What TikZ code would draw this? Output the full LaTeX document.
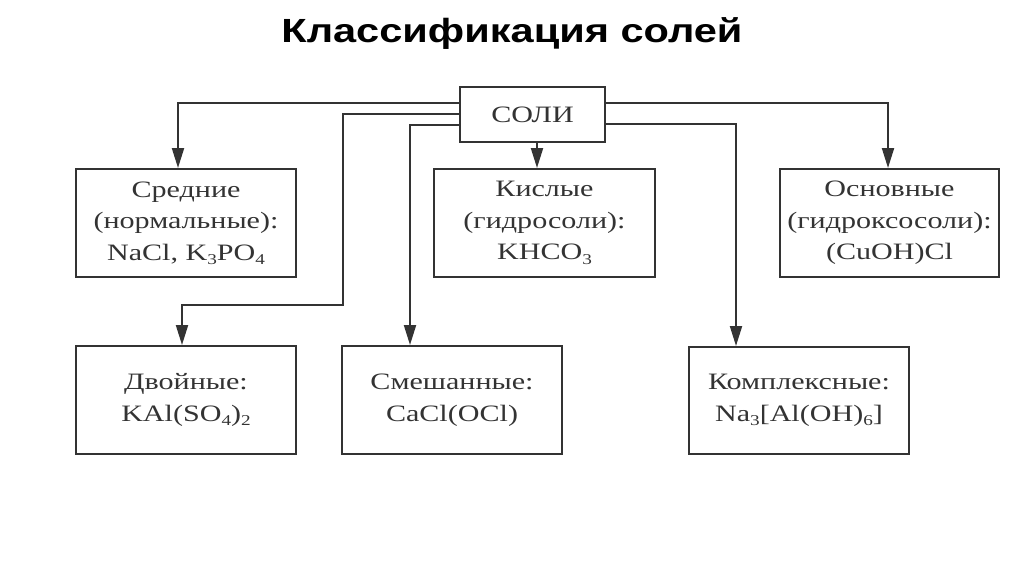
\documentclass[tikz,border=0pt]{standalone}
\usepackage{fontspec}
\setmainfont{Liberation Serif}[FakeStretch=1.28]
\newfontfamily\titlefont{Liberation Sans}[FakeStretch=1.24]
\usetikzlibrary{arrows.meta}
\newcommand\sbs[1]{\raisebox{-0.4ex}{\fontsize{15}{15}\selectfont #1}}
\begin{document}
\begin{tikzpicture}[x=1pt,y=-1pt,
  box/.style={draw=black!80, line width=2pt, rectangle, inner sep=0pt,
    minimum width=220pt, minimum height=108pt, align=center,
    text=black!80, font=\fontsize{23.5}{31.5}\selectfont},
  arr/.style={draw=black!80, line width=2pt, -{Triangle[length=20pt,width=12pt]}}]
\useasboundingbox (0,0) rectangle (1024,574);
\node[font=\titlefont\bfseries\fontsize{33.5}{36}\selectfont, anchor=base] (title) at (512,42) {Классификация солей};
\node[box, minimum width=145pt, minimum height=55pt] (soli) at (532.5,114.5) {СОЛИ};
\node[box] (sred) at (186,223) {Средние\\(нормальные):\\NaCl, K\sbs{3}PO\sbs{4}};
\node[box, minimum width=221pt] (kisl) at (544.5,223) {Кислые\\(гидросоли):\\KHCO\sbs{3}};
\node[box, minimum width=219pt] (osn) at (889.5,223) {Основные\\(гидроксосоли):\\(CuOH)Cl};
\node[box] (dvoi) at (186,400) {Двойные:\\KAl(SO\sbs{4})\sbs{2}};
\node[box] (smesh) at (452,400) {Смешанные:\\CaCl(OCl)};
\node[box, minimum height=107pt] (kompl) at (799,400.5) {Комплексные:\\Na\sbs{3}[Al(OH)\sbs{6}]};
\coordinate (bend) at (343,305);
\draw[arr] ([yshift=11.5pt]soli.west) -| ([xshift=-8pt]sred.north);
\draw[arr] ([yshift=0.5pt]soli.west) -| (bend) -| ([xshift=-4pt]dvoi.north);
\draw[arr] ([yshift=-10.5pt]soli.west) -| ([xshift=-42pt]smesh.north);
\draw[arr] ([xshift=4.5pt]soli.south) -- ([xshift=-7.5pt]kisl.north);
\draw[arr] ([yshift=11.5pt]soli.east) -| ([xshift=-1.5pt]osn.north);
\draw[arr] ([yshift=-9.5pt]soli.east) -| ([xshift=-63pt]kompl.north);
\end{tikzpicture}
\end{document}
